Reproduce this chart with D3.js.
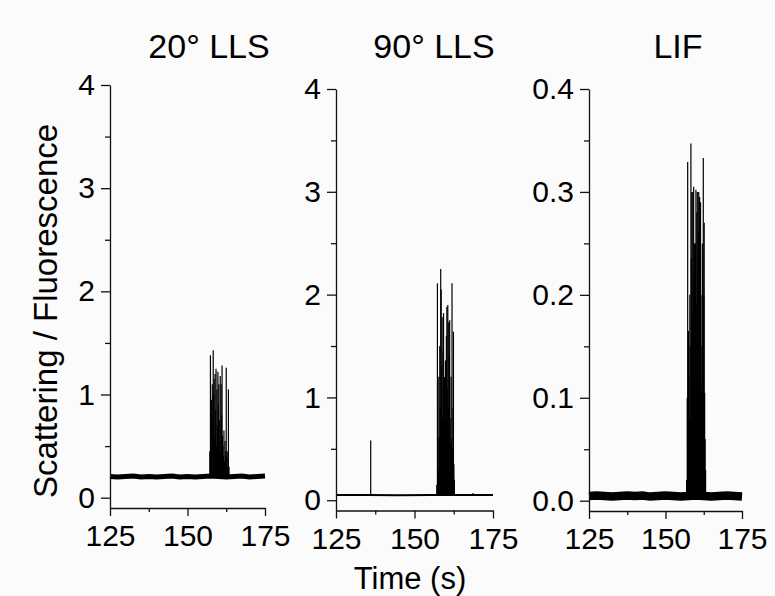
<!DOCTYPE html>
<html>
<head>
<meta charset="utf-8">
<script src="https://cdn.jsdelivr.net/npm/d3@7"></script>
<style>
  body { margin: 0; background: #fbfbfb; }
  svg { font-family: "Liberation Sans", Arial, sans-serif; }
</style>
</head>
<body>
<svg id="chart" width="775" height="596"></svg>
<script>
// time axis ticks (s)
const xTicks = [125, 150, 175];
const xMinor = [137.5, 162.5];
const titles = ['20° LLS', '90° LLS', 'LIF'];

// baseline traces [time, value]
const lls20Base = [[125, 0.205], [127.5, 0.2], [130, 0.205], [132.5, 0.21], [135, 0.2], [137.5, 0.205],
  [140, 0.2], [142.5, 0.205], [145, 0.21], [147.5, 0.2], [150, 0.205], [152.5, 0.2], [155, 0.205],
  [157.5, 0.21], [160, 0.205], [162.5, 0.2], [165, 0.205], [167.5, 0.21], [170, 0.2], [172.5, 0.205], [175, 0.21]];
const lls90Base = [[125, 0.05], [135, 0.05], [145, 0.049], [155, 0.05], [165, 0.05], [175, 0.05]];
const lifBase = [[125, 0.0045], [127.5, 0.005], [130, 0.0045], [132.5, 0.004], [135, 0.0045], [137.5, 0.005],
  [140, 0.0045], [142.5, 0.005], [145, 0.004], [147.5, 0.0045], [150, 0.005], [152.5, 0.0045], [155, 0.004],
  [157.5, 0.0045], [160, 0.005], [162.5, 0.0045], [165, 0.004], [167.5, 0.0045], [170, 0.005], [172.5, 0.0045], [175, 0.004]];

// particle bursts [time, peak value]
const lls20Spikes = [[157.2, 0.45], [157.4, 1.38], [157.55, 0.7], [157.7, 0.95], [157.85, 0.55], [158.0, 1.1],
  [158.15, 0.8], [158.3, 1.43], [158.45, 1.0], [158.6, 1.15], [158.75, 0.6], [158.9, 1.2], [159.05, 0.85],
  [159.2, 1.25], [159.35, 0.5], [159.5, 1.05], [159.65, 0.7], [159.8, 1.22], [159.95, 0.9], [160.1, 1.1],
  [160.25, 0.55], [160.4, 0.75], [160.55, 1.18], [160.7, 0.45], [160.85, 1.1], [161.0, 0.8], [161.15, 1.28],
  [161.3, 0.6], [161.45, 0.5], [161.6, 0.4], [161.75, 0.65], [161.9, 0.35], [162.1, 0.55], [162.3, 0.45],
  [162.5, 1.26], [162.65, 0.4], [162.8, 0.3], [163.0, 0.45], [163.2, 1.05], [163.4, 0.3]];
const lls90Spikes = [[136.05, 0.58], [157.1, 0.15], [157.3, 2.11], [157.45, 0.62], [157.6, 0.3], [157.75, 1.2],
  [157.9, 0.6], [158.05, 1.5], [158.2, 0.9], [158.35, 2.25], [158.5, 2.05], [158.65, 1.3], [158.8, 1.78],
  [158.95, 0.8], [159.1, 1.45], [159.25, 1.82], [159.4, 1.0], [159.55, 1.2], [159.7, 1.04], [159.85, 1.36],
  [160.0, 0.7], [160.15, 1.6], [160.3, 1.88], [160.45, 1.1], [160.6, 1.9], [160.75, 0.9], [160.9, 1.73],
  [161.05, 1.4], [161.2, 1.75], [161.35, 0.8], [161.5, 0.55], [161.65, 1.2], [161.8, 0.6], [161.95, 2.11],
  [162.1, 0.5], [162.25, 0.9], [162.4, 1.64], [162.55, 0.35], [162.7, 0.2], [168.6, 0.07]];
const lifSpikes = [[156.9, 0.02], [157.1, 0.1], [157.25, 0.329], [157.4, 0.05], [157.5, 0.165], [157.65, 0.12],
  [157.8, 0.08], [157.95, 0.2], [158.1, 0.15], [158.3, 0.347], [158.45, 0.235], [158.6, 0.3], [158.75, 0.18],
  [158.9, 0.3], [159.05, 0.22], [159.2, 0.305], [159.35, 0.178], [159.5, 0.25], [159.65, 0.2], [159.8, 0.25],
  [159.95, 0.302], [160.1, 0.19], [160.25, 0.28], [160.4, 0.3], [160.55, 0.22], [160.7, 0.26], [160.85, 0.3],
  [161.0, 0.18], [161.15, 0.295], [161.3, 0.24], [161.45, 0.29], [161.6, 0.2], [161.75, 0.107], [161.9, 0.15],
  [162.05, 0.25], [162.2, 0.12], [162.35, 0.333], [162.5, 0.2], [162.65, 0.27], [162.8, 0.105], [162.95, 0.06],
  [163.1, 0.03]];

const llsTicks = [0, 1, 2, 3, 4];
const llsMinor = [0.5, 1.5, 2.5, 3.5];
const lifTicks = [0, 0.1, 0.2, 0.3, 0.4];
const lifMinor = [0.05, 0.15, 0.25, 0.35];

const panels = [
  { title: titles[0], titleX: 209, left: 110, right: 265, top: 85, bottom: 508, yDomain: [-0.1, 4],
    yTicks: llsTicks, yMinor: llsMinor, fmt: d3.format('d'), base: lls20Base, baseLevel: 0.2, baseWidth: 5, spikes: lls20Spikes },
  { title: titles[1], titleX: 434, left: 336, right: 493, top: 89, bottom: 510.5, yDomain: [-0.1, 4],
    yTicks: llsTicks, yMinor: llsMinor, fmt: d3.format('d'), base: lls90Base, baseLevel: 0.05, baseWidth: 2, spikes: lls90Spikes },
  { title: titles[2], titleX: 678, left: 589, right: 742, top: 89, bottom: 511, yDomain: [-0.01, 0.4],
    yTicks: lifTicks, yMinor: lifMinor, fmt: d3.format('.1f'), base: lifBase, baseLevel: 0.0045, baseWidth: 8.5, spikes: lifSpikes }
];

const svg = d3.select('#chart');

panels.forEach(p => {
  const x = d3.scaleLinear().domain([125, 175]).range([p.left, p.right]);
  const y = d3.scaleLinear().domain(p.yDomain).range([p.bottom, p.top]);
  const g = svg.append('g');

  // baseline
  g.append('path')
    .datum(p.base)
    .attr('d', d3.line().x(d => x(d[0])).y(d => y(d[1])))
    .attr('fill', 'none')
    .attr('stroke', '#000')
    .attr('stroke-width', p.baseWidth);

  // spikes
  g.selectAll('.spike')
    .data(p.spikes)
    .enter()
    .append('line')
    .attr('class', 'spike')
    .attr('x1', d => x(d[0]))
    .attr('x2', d => x(d[0]))
    .attr('y1', y(p.baseLevel))
    .attr('y2', d => y(d[1]))
    .attr('stroke', '#000')
    .attr('stroke-width', 1.2);

  // y axis
  g.append('g')
    .attr('transform', `translate(${p.left},0)`)
    .call(d3.axisLeft(y).tickValues(p.yTicks).tickFormat(p.fmt).tickSize(9).tickSizeOuter(0).tickPadding(6));
  g.append('g')
    .attr('transform', `translate(${p.left},0)`)
    .call(d3.axisLeft(y).tickValues(p.yMinor).tickFormat('').tickSize(5).tickSizeOuter(0))
    .select('.domain').remove();

  // x axis
  g.append('g')
    .attr('transform', `translate(0,${p.bottom})`)
    .call(d3.axisBottom(x).tickValues(xTicks).tickFormat(d3.format('d')).tickSize(8).tickSizeOuter(0).tickPadding(9));
  g.append('g')
    .attr('transform', `translate(0,${p.bottom})`)
    .call(d3.axisBottom(x).tickValues(xMinor).tickFormat('').tickSize(4).tickSizeOuter(0))
    .select('.domain').remove();

  g.selectAll('.domain, .tick line').attr('stroke', '#111').attr('stroke-width', 1.3);
  g.selectAll('.tick text').attr('fill', '#000').style('font-size', '30px');

  g.append('text')
    .attr('x', p.titleX)
    .attr('y', 58)
    .attr('text-anchor', 'middle')
    .style('font-size', '34px')
    .text(p.title);
});

svg.append('text')
  .attr('transform', 'translate(57,311) rotate(-90)')
  .attr('text-anchor', 'middle')
  .style('font-size', '33px')
  .text('Scattering / Fluorescence');

svg.append('text')
  .attr('x', 410)
  .attr('y', 589)
  .attr('text-anchor', 'middle')
  .style('font-size', '31px')
  .text('Time (s)');
</script>
</body>
</html>
